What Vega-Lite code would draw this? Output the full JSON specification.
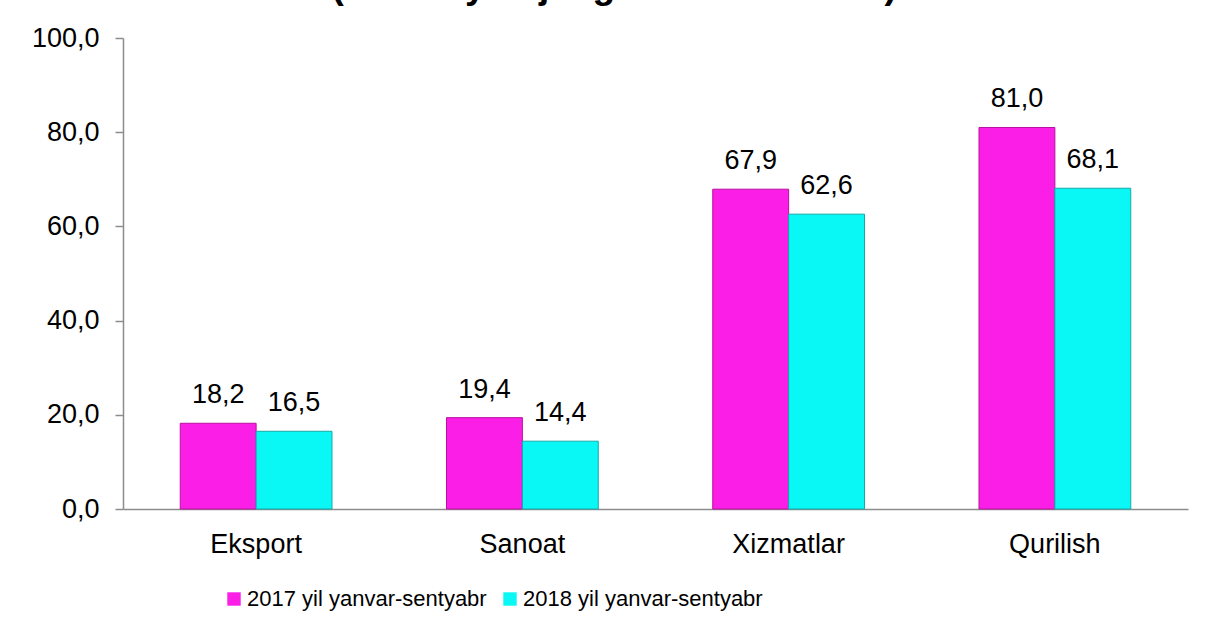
{
  "$schema": "https://vega.github.io/schema/vega-lite/v6.json",
  "width": 1065,
  "height": 471,
  "autosize": {"type": "none"},
  "padding": {"left": 123, "top": 38, "right": 28, "bottom": 128},
  "background": "white",
  "title": {
    "text": "(umumiy hajmiga nisbatan %da)",
    "font": "Liberation Sans",
    "fontSize": 37,
    "fontWeight": "bold",
    "color": "black",
    "anchor": "start",
    "dx": 300,
    "dy": 11,
    "baseline": "alphabetic",
    "offset": 0
  },
  "config": {
    "view": {"stroke": null},
    "locale": {"number": {"decimal": ",", "thousands": " ", "grouping": [3], "currency": ["", ""]}}
  },
  "data": {
    "values": [
      {"category": "Eksport", "series": "2017 yil yanvar-sentyabr", "value": 18.2},
      {"category": "Eksport", "series": "2018 yil yanvar-sentyabr", "value": 16.5},
      {"category": "Sanoat", "series": "2017 yil yanvar-sentyabr", "value": 19.4},
      {"category": "Sanoat", "series": "2018 yil yanvar-sentyabr", "value": 14.4},
      {"category": "Xizmatlar", "series": "2017 yil yanvar-sentyabr", "value": 67.9},
      {"category": "Xizmatlar", "series": "2018 yil yanvar-sentyabr", "value": 62.6},
      {"category": "Qurilish", "series": "2017 yil yanvar-sentyabr", "value": 81.0},
      {"category": "Qurilish", "series": "2018 yil yanvar-sentyabr", "value": 68.1}
    ]
  },
  "encoding": {
    "x": {
      "field": "category",
      "type": "nominal",
      "sort": ["Eksport", "Sanoat", "Xizmatlar", "Qurilish"],
      "scale": {"paddingInner": 0.43, "paddingOuter": 0.215},
      "axis": {
        "title": null,
        "labelAngle": 0,
        "labelFont": "Liberation Sans",
        "labelFontSize": 27,
        "labelColor": "black",
        "labelPadding": 22,
        "ticks": false,
        "domainColor": "#8c8c8c",
        "domainWidth": 1.5
      }
    },
    "xOffset": {"field": "series", "type": "nominal", "scale": {"paddingInner": 0, "paddingOuter": 0}},
    "y": {
      "field": "value",
      "type": "quantitative",
      "scale": {"domain": [0, 100], "nice": false},
      "axis": {
        "title": null,
        "values": [0, 20, 40, 60, 80, 100],
        "format": ".1f",
        "grid": false,
        "labelFont": "Liberation Sans",
        "labelFontSize": 27,
        "labelColor": "black",
        "labelPadding": 16,
        "tickSize": 8,
        "tickColor": "#8c8c8c",
        "tickWidth": 1.5,
        "domainColor": "#8c8c8c",
        "domainWidth": 1.5
      }
    }
  },
  "layer": [
    {
      "mark": {"type": "bar", "strokeWidth": 1},
      "encoding": {
        "color": {
          "field": "series",
          "type": "nominal",
          "scale": {"range": ["#FA1EE6", "#0AF8F5"]},
          "legend": {
            "title": null,
            "orient": "none",
            "legendX": 100,
            "legendY": 550,
            "direction": "horizontal",
            "symbolType": "square",
            "symbolSize": 180,
            "symbolStrokeWidth": 0,
            "labelFont": "Liberation Sans",
            "labelFontSize": 22,
            "labelLimit": 0,
            "labelColor": "black",
            "labelOffset": 2,
            "columnPadding": 12
          }
        },
        "stroke": {
          "field": "series",
          "type": "nominal",
          "scale": {"range": ["#B8129F", "#16A9A8"]},
          "legend": null
        }
      }
    },
    {
      "mark": {"type": "text", "baseline": "alphabetic", "dy": -20, "font": "Liberation Sans", "fontSize": 27, "color": "black"},
      "encoding": {
        "text": {"field": "value", "type": "quantitative", "format": ".1f"}
      }
    }
  ]
}
